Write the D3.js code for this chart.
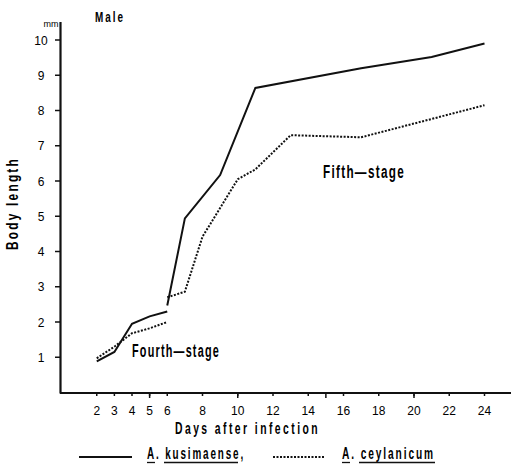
<!DOCTYPE html>
<html>
<head>
<meta charset="utf-8">
<script src="https://cdn.jsdelivr.net/npm/d3@7"></script>
<style>
  body { margin: 0; background: #fff; }
  .lbl { font-family: "Liberation Sans", Arial, sans-serif; font-weight: bold; }
  .tk { font-family: "Liberation Sans", Arial, sans-serif; font-size: 12px; }
</style>
</head>
<body>
<div id="chart"></div>
<script>
// data (days after infection, body length mm)
const kusiFourth = [[2, 0.88], [3, 1.15], [4, 1.95], [5, 2.16], [6, 2.3]];
const kusiFifth = [[6, 2.47], [7, 4.94], [9, 6.17], [11, 8.64], [17, 9.2], [21, 9.52], [24, 9.9]];
const ceylFourth = [[2, 0.97], [3, 1.3], [4, 1.68], [5, 1.82], [6, 2.0]];
const ceylFifth = [[6, 2.7], [7, 2.86], [8, 4.42], [10, 6.05], [11, 6.33], [13, 7.3], [17, 7.24], [24, 8.15]];
const xTicks = [2, 3, 4, 5, 6, 8, 10, 12, 14, 16, 18, 20, 22, 24];
const xMajor = [5, 10, 15, 20];
const yTicks = [1, 2, 3, 4, 5, 6, 7, 8, 9, 10];

const W = 511, H = 471;
const x = d3.scaleLinear().domain([0, 24]).range([61.5, 484.5]);
const y = d3.scaleLinear().domain([0, 10]).range([392.5, 40]);

const svg = d3.select("#chart").append("svg")
  .attr("width", W)
  .attr("height", H);

// axes lines
svg.append("line")
  .attr("x1", 60.5).attr("x2", 60.5)
  .attr("y1", 22).attr("y2", 393.5)
  .attr("stroke", "#111").attr("stroke-width", 2.2);
svg.append("line")
  .attr("x1", 60).attr("x2", 511)
  .attr("y1", 393).attr("y2", 393)
  .attr("stroke", "#111").attr("stroke-width", 2.2);

// y ticks
svg.selectAll(".ytick").data(yTicks).enter().append("line")
  .attr("x1", 55).attr("x2", 60)
  .attr("y1", d => y(d)).attr("y2", d => y(d))
  .attr("stroke", "#111").attr("stroke-width", 1.5);
svg.selectAll(".ylab").data(yTicks).enter().append("text")
  .attr("class", "tk")
  .attr("x", 41).attr("y", d => y(d) + 4.5)
  .attr("text-anchor", "middle")
  .text(d => d);
svg.append("text")
  .attr("class", "tk")
  .attr("x", 51).attr("y", 27)
  .attr("text-anchor", "middle")
  .style("font-size", "9px")
  .text("mm");

// x ticks
svg.selectAll(".xtick").data(xTicks).enter().append("line")
  .attr("x1", d => x(d)).attr("x2", d => x(d))
  .attr("y1", 393).attr("y2", 396)
  .attr("stroke", "#111").attr("stroke-width", 1.5);
svg.selectAll(".xmaj").data(xMajor).enter().append("line")
  .attr("x1", d => x(d)).attr("x2", d => x(d))
  .attr("y1", 393).attr("y2", 398)
  .attr("stroke", "#111").attr("stroke-width", 1.5);
svg.selectAll(".xlab").data(xTicks).enter().append("text")
  .attr("class", "tk")
  .attr("x", d => x(d)).attr("y", 415)
  .attr("text-anchor", "middle")
  .text(d => d);

// series
const line = d3.line().x(d => x(d[0])).y(d => y(d[1]));
[kusiFourth, kusiFifth].forEach(s => {
  svg.append("path").datum(s)
    .attr("d", line)
    .attr("fill", "none")
    .attr("stroke", "#111")
    .attr("stroke-width", 2);
});
[ceylFourth, ceylFifth].forEach(s => {
  svg.append("path").datum(s)
    .attr("d", line)
    .attr("fill", "none")
    .attr("stroke", "#111")
    .attr("stroke-width", 2)
    .attr("stroke-dasharray", "2,1.5");
});

// condensed labels: squeeze each text into the width seen in the figure
function label(str, x0, y0, size, len, spacing) {
  return svg.append("text").attr("class", "lbl")
    .attr("x", x0).attr("y", y0)
    .style("font-size", size + "px")
    .style("letter-spacing", spacing + "px")
    .attr("textLength", len)
    .attr("lengthAdjust", "spacingAndGlyphs")
    .text(str);
}
label("Male", 95, 22, 15, 30, 3);
label("Fourth\u2014stage", 132, 357, 18, 88, 2);
label("Fifth\u2014stage", 323, 178, 18, 82, 2);
label("Days after infection", 175, 434, 17, 145, 4);
svg.append("text").attr("class", "lbl")
  .attr("transform", "translate(18,250) rotate(-90)")
  .style("font-size", "16px")
  .style("letter-spacing", "3px")
  .attr("textLength", 93)
  .attr("lengthAdjust", "spacingAndGlyphs")
  .text("Body   length");

// legend
svg.append("line")
  .attr("x1", 79).attr("x2", 132).attr("y1", 457).attr("y2", 457)
  .attr("stroke", "#111").attr("stroke-width", 2);
svg.append("line")
  .attr("x1", 273).attr("x2", 325).attr("y1", 457).attr("y2", 457)
  .attr("stroke", "#111").attr("stroke-width", 2)
  .attr("stroke-dasharray", "2,1.5");

// legend names, underlines drawn under genus letter and species name
function underline(x0, x1) {
  svg.append("line")
    .attr("x1", x0).attr("x2", x1)
    .attr("y1", 462.5).attr("y2", 462.5)
    .attr("stroke", "#111").attr("stroke-width", 1.3);
}
label("A. kusimaense,", 147, 459, 16, 98, 3);
underline(147, 155);
underline(164, 238);
label("A. ceylanicum", 342, 459, 16, 93, 3);
underline(342, 350);
underline(359, 435);
</script>
</body>
</html>
